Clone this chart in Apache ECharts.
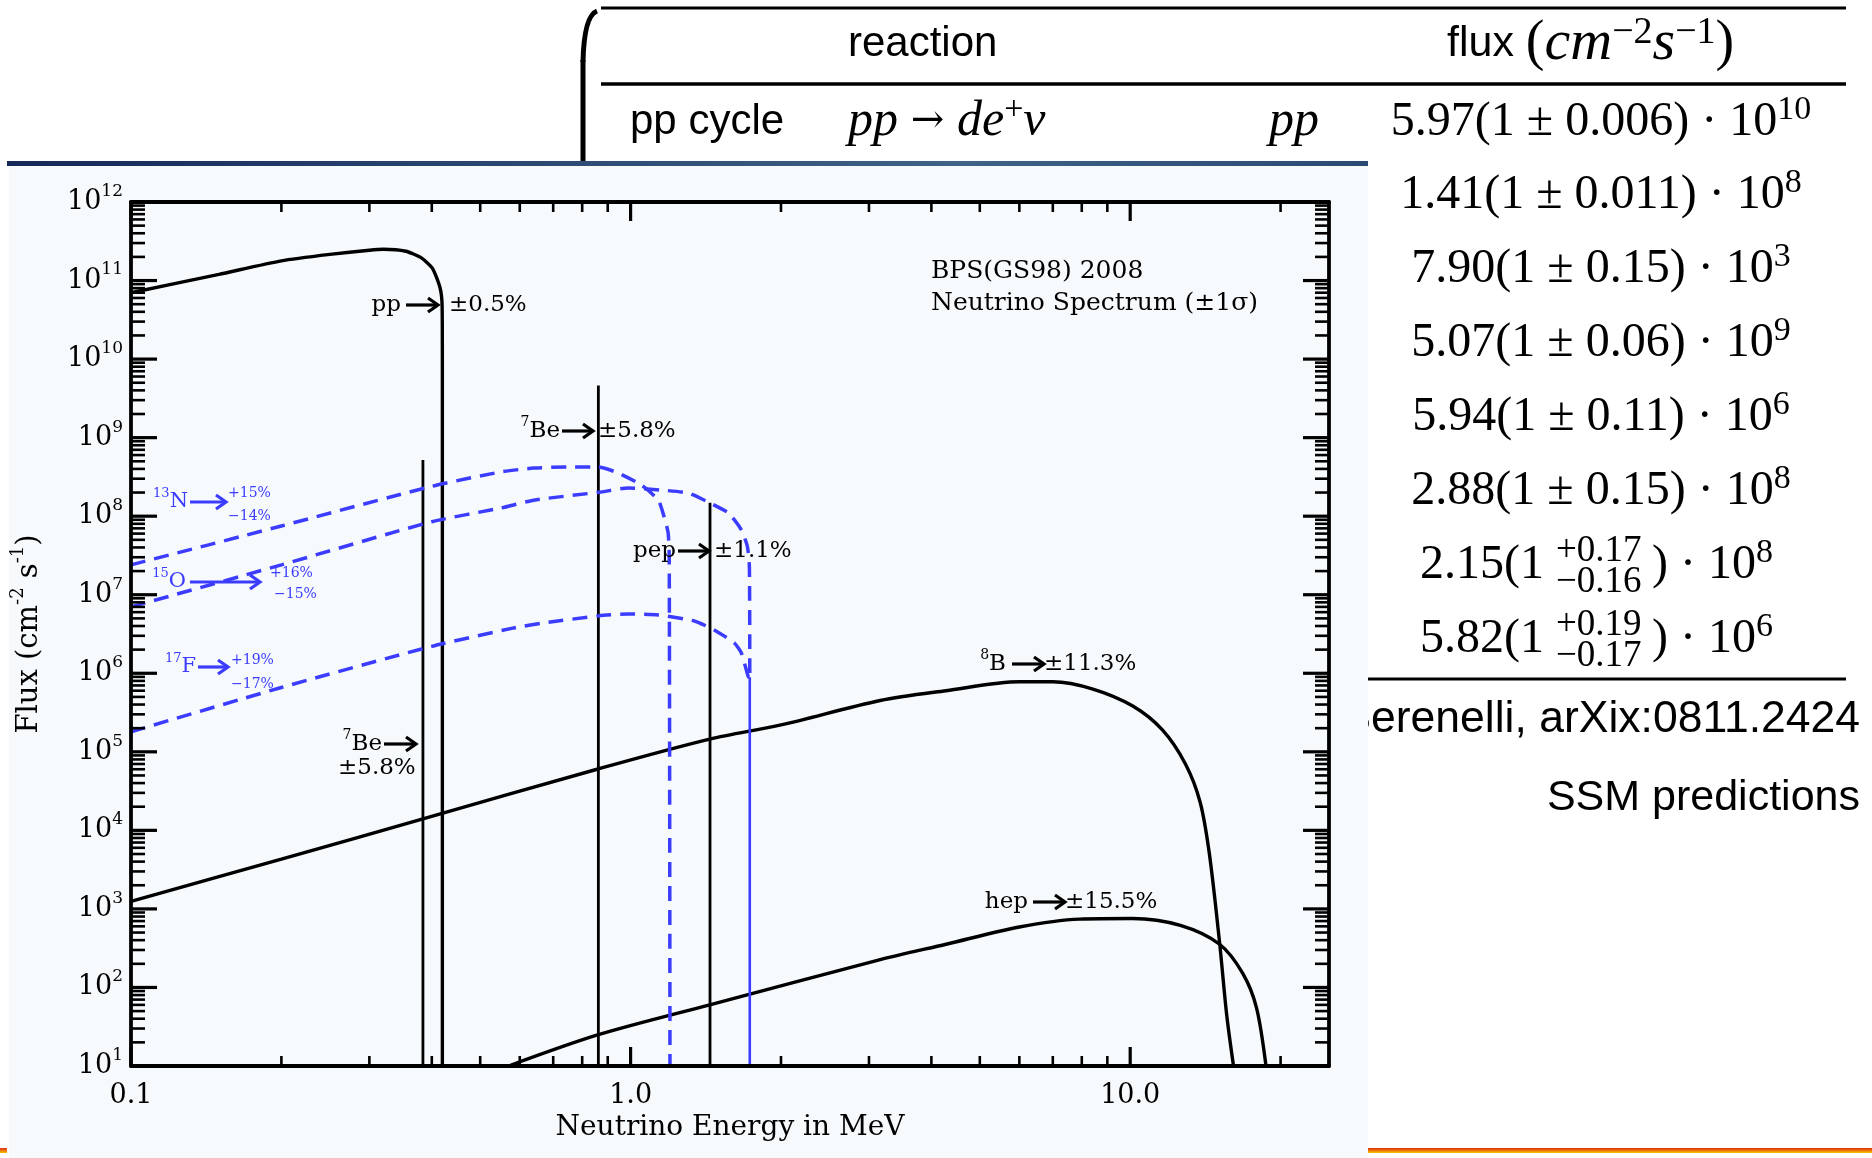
<!DOCTYPE html>
<html><head><meta charset="utf-8">
<script src="https://cdn.jsdelivr.net/npm/echarts@6/dist/echarts.min.js"></script>
<style>html,body{margin:0;padding:0;background:#fff}#c{width:1872px;height:1158px}</style>
</head><body><div id="c"></div>
<script>
// ---------------- data ----------------
const energyTicks = [0.1, 1, 10];
const energyTickLabels = ['0.1', '1.0', '10.0'];
const energyMinorTicks = [0.2, 0.3, 0.4, 0.5, 0.6, 0.7, 0.8, 0.9, 2, 3, 4, 5, 6, 7, 8, 9, 20];
const fluxDecades = [1, 2, 3, 4, 5, 6, 7, 8, 9, 10, 11, 12];
const fluxMinorSteps = [2, 3, 4, 5, 6, 7, 8, 9];

// [energy MeV, flux]
const ppSpectrum = [[0.1, 7.0e10], [0.15, 1.2e11], [0.2, 1.78e11], [0.25, 2.15e11], [0.3, 2.43e11], [0.32, 2.5e11], [0.355, 2.36e11], [0.38, 1.97e11], [0.401, 1.44e11], [0.4155, 8.1e10], [0.4195, 4.8e10], [0.42, 7.2e9], [0.42, 10]];
const be7Line384 = [[0.384, 10], [0.384, 5.2e8]];
const be7Line862 = [[0.862, 10], [0.862, 4.6e9]];
const pepLine = [[1.442, 10], [1.442, 1.48e8]];
const b8Spectrum = [[0.1, 1.25e3], [0.2, 4.3e3], [0.384, 1.4e4], [0.857, 6.0e4], [1.44, 1.45e5], [2.0, 2.2e5], [3.16, 4.5e5], [4.28, 6.0e5], [6.0, 7.8e5], [7.0, 7.8e5], [8.42, 6.3e5], [10.1, 3.85e5], [11.6, 1.9e5], [12.9, 7.0e4], [13.8, 2.3e4], [14.4, 5.1e3], [15.1, 3.7e2], [15.6, 45], [16.1, 10]];
const hepSpectrum = [[0.57, 10], [0.862, 25], [1.44, 60], [3.16, 226], [4.28, 355], [6.0, 589], [7.92, 741], [10.1, 755], [12.6, 617], [15.1, 355], [16.8, 151], [17.9, 55], [18.7, 10]];
const n13Spectrum = [[0.1, 2.4e7], [0.2, 7.5e7], [0.4, 2.4e8], [0.55, 3.66e8], [0.64, 4.1e8], [0.749, 4.23e8], [0.861, 4.23e8], [0.944, 3.55e8], [1.05, 2.5e8], [1.136, 1.6e8], [1.167, 9.8e7], [1.189, 6.1e7], [1.195, 2.8e7], [1.199, 10]];
const o15Spectrum = [[0.1, 7.0e6], [0.2, 2.4e7], [0.4, 8.5e7], [0.55, 1.27e8], [0.64, 1.6e8], [0.872, 2.03e8], [0.989, 2.29e8], [1.151, 2.15e8], [1.304, 1.97e8], [1.43, 1.51e8], [1.569, 1.1e8], [1.666, 6.7e7], [1.713, 4.1e7], [1.729, 2.26e7], [1.732, 8.9e5]];
const f17Spectrum = [[0.1, 1.8e5], [0.2, 6.6e5], [0.4, 2.2e6], [0.584, 3.78e6], [0.671, 4.37e6], [0.861, 5.37e6], [0.989, 5.69e6], [1.136, 5.52e6], [1.341, 4.63e6], [1.47, 3.56e6], [1.613, 2.43e6], [1.666, 1.81e6], [1.721, 8.97e5], [1.732, 8.9e5]];
const cnoEndpointDrop = [[1.732, 8.9e5], [1.732, 10]];

// table (SSM predictions)
const tableFluxMantissa = ['5.97', '1.41', '7.90', '5.07', '5.94', '2.88', '2.15', '5.82'];
const tableFluxError = ['± 0.006', '± 0.011', '± 0.15', '± 0.06', '± 0.11', '± 0.15', ['+0.17', '−0.16'], ['+0.19', '−0.17']];
const tableFluxExponent = ['10', '8', '3', '9', '6', '8', '8', '6'];

// ---------------- layout ----------------
const SERIF = 'DejaVu Serif';
const TSERIF = 'Liberation Serif';
const SANS = 'Liberation Sans';
const BLUE = '#3c3cff';
const rowY = [122, 195, 269, 343, 417, 491, 565, 639];
const AF = 23; // annotation font size

function T(x, y, text, o) {
  o = o || {};
  const al = o.align || 'left';
  return { type: 'text', z: o.z != null ? o.z : 20, silent: true, style: {
    x: x, y: y, text: text, fill: o.color || '#000', fontFamily: o.family || SERIF,
    fontSize: o.size || AF, fontStyle: o.italic ? 'italic' : 'normal',
    textAlign: al, align: al, textVerticalAlign: 'middle', verticalAlign: 'middle',
    rich: o.rich || {} } };
}
function sup(size, family, color) {
  return { fontSize: size, fontFamily: family, fill: color || '#000', color: color || '#000', verticalAlign: 'top' };
}
function base(size, family, lh, color, italic) {
  return { fontSize: size, fontFamily: family, lineHeight: lh, fill: color || '#000', color: color || '#000', fontStyle: italic ? 'italic' : 'normal' };
}
function A(x1, x2, y, color) {
  color = color || '#000';
  return [
    { type: 'line', z: 20, silent: true, shape: { x1: x1, y1: y, x2: x2 - 2, y2: y }, style: { stroke: color, lineWidth: 3.2 } },
    { type: 'polyline', z: 20, silent: true, shape: { points: [[x2 - 10, y - 7], [x2, y], [x2 - 10, y + 7]] }, style: { stroke: color, lineWidth: 3.2, fill: null } }
  ];
}

const elements = [];
// slide table (drawn under the chart panel)
elements.push({ type: 'bezierCurve', z: 1, silent: true, shape: { x1: 597, y1: 11, x2: 583, y2: 62, cpx1: 584, cpy1: 16 }, style: { stroke: '#000', lineWidth: 5, fill: null } });
elements.push({ type: 'line', z: 1, silent: true, shape: { x1: 583, y1: 60, x2: 583, y2: 164 }, style: { stroke: '#000', lineWidth: 5 } });
elements.push({ type: 'line', z: 1, silent: true, shape: { x1: 601, y1: 8, x2: 1846, y2: 8 }, style: { stroke: '#000', lineWidth: 3 } });
elements.push({ type: 'line', z: 1, silent: true, shape: { x1: 601, y1: 84, x2: 1846, y2: 84 }, style: { stroke: '#000', lineWidth: 3.5 } });
elements.push({ type: 'line', z: 1, silent: true, shape: { x1: 1368, y1: 679, x2: 1846, y2: 679 }, style: { stroke: '#000', lineWidth: 3 } });
elements.push(T(848, 44, 'reaction', { family: SANS, size: 42, z: 1 }));
elements.push(T(1447, 44, '{sf|flux }{rm|(}{it|cm}{s|−2}{it|s}{s|−1}{rm|)}', { family: TSERIF, size: 50, z: 1, rich: {
  sf: base(43, SANS, 60), rm: base(56, TSERIF, 60), it: base(58, TSERIF, 60, '#000', true), s: sup(38, TSERIF) } }));
elements.push(T(630, 122, 'pp cycle', { family: SANS, size: 42, z: 1 }));
elements.push(T(848, 122, '{it|pp}{rm| → }{it|de}{s|+}{it|ν}', { family: TSERIF, size: 48, z: 1, rich: {
  it: base(50, TSERIF, 58, '#000', true), rm: base(40, SERIF, 58), s: sup(34, TSERIF) } }));
elements.push(T(1269, 122, 'pp', { family: TSERIF, size: 50, italic: true, z: 1 }));
const numRich = { m: base(48, TSERIF, 58), s: sup(34, TSERIF) };
tableFluxMantissa.forEach(function (m, i) {
  const err = tableFluxError[i];
  if (typeof err === 'string') {
    elements.push(T(1601, rowY[i], '{m|' + m + '(1 ' + err + ') · 10}{s|' + tableFluxExponent[i] + '}', { family: TSERIF, size: 48, align: 'center', z: 1, rich: numRich }));
  } else {
    elements.push(T(1544, rowY[i], m + '(1', { family: TSERIF, size: 48, align: 'right', z: 1 }));
    elements.push(T(1556, rowY[i] - 14, err[0], { family: TSERIF, size: 37, z: 1 }));
    elements.push(T(1556, rowY[i] + 17, err[1], { family: TSERIF, size: 37, z: 1 }));
    elements.push(T(1652, rowY[i], '{m|) · 10}{s|' + tableFluxExponent[i] + '}', { family: TSERIF, size: 48, z: 1, rich: numRich }));
  }
});
elements.push(T(1860, 720, 'Serenelli, arXix:0811.2424', { family: SANS, size: 44.5, align: 'right', z: 1 }));
elements.push(T(1860, 798, 'SSM predictions', { family: SANS, size: 43, align: 'right', z: 1 }));

// chart panel + slide decorations
elements.push({ type: 'rect', z: 2, silent: true, shape: { x: 9, y: 166, width: 1359, height: 992 }, style: { fill: '#f6fafc' } });
elements.push({ type: 'rect', z: 2, silent: true, shape: { x: 7, y: 161, width: 1361, height: 5 }, style: { fill: new echarts.graphic.LinearGradient(0, 0, 1, 0, [
  { offset: 0, color: '#15285a' }, { offset: 0.35, color: '#2a4670' }, { offset: 0.7, color: '#3e6288' }, { offset: 1, color: '#2a4a74' }]) } });
elements.push({ type: 'rect', z: 2, silent: true, shape: { x: 1368, y: 1148, width: 504, height: 5 }, style: { fill: new echarts.graphic.LinearGradient(0, 0, 0, 1, [
  { offset: 0, color: '#e02a10' }, { offset: 1, color: '#f5c400' }]) } });
elements.push({ type: 'rect', z: 2, silent: true, shape: { x: 0, y: 1148, width: 7, height: 5 }, style: { fill: new echarts.graphic.LinearGradient(0, 0, 0, 1, [
  { offset: 0, color: '#e02a10' }, { offset: 1, color: '#f5c400' }]) } });

// in-plot annotations
const supB = sup(14, SERIF);
const mainB = base(AF, SERIF, 32);
elements.push(T(931, 271, 'BPS(GS98) 2008', { size: 25 }));
elements.push(T(931, 303, 'Neutrino Spectrum (±1σ)', { size: 25 }));
elements.push(T(401, 305, 'pp', { align: 'right' })); A(406, 438, 305).forEach(e => elements.push(e)); elements.push(T(449, 305, '±0.5%'));
elements.push(T(560, 431, '{s|7}{m|Be}', { align: 'right', rich: { s: supB, m: mainB } })); A(562, 593, 431).forEach(e => elements.push(e)); elements.push(T(598, 431, '±5.8%'));
elements.push(T(676, 551, 'pep', { align: 'right' })); A(678, 709, 551).forEach(e => elements.push(e)); elements.push(T(714, 551, '±1.1%'));
elements.push(T(382, 744, '{s|7}{m|Be}', { align: 'right', rich: { s: supB, m: mainB } })); A(384, 416, 744).forEach(e => elements.push(e)); elements.push(T(338, 768, '±5.8%'));
elements.push(T(1006, 664, '{s|8}{m|B}', { align: 'right', rich: { s: supB, m: mainB } })); A(1012, 1044, 664).forEach(e => elements.push(e)); elements.push(T(1044, 664, '±11.3%'));
elements.push(T(1028, 902, 'hep', { align: 'right' })); A(1033, 1065, 902).forEach(e => elements.push(e)); elements.push(T(1065, 902, '±15.5%'));
const supBl = sup(13, SERIF, BLUE);
const mainBl = base(21, SERIF, 30, BLUE);
elements.push(T(188, 502, '{s|13}{m|N}', { align: 'right', color: BLUE, rich: { s: supBl, m: mainBl } })); A(190, 226, 502, BLUE).forEach(e => elements.push(e));
elements.push(T(228, 493, '+15%', { color: BLUE, size: 14 })); elements.push(T(228, 516, '−14%', { color: BLUE, size: 14 }));
elements.push(T(186, 582, '{s|15}{m|O}', { align: 'right', color: BLUE, rich: { s: supBl, m: mainBl } })); A(190, 260, 582, BLUE).forEach(e => elements.push(e));
elements.push(T(270, 573, '+16%', { color: BLUE, size: 14 })); elements.push(T(274, 594, '−15%', { color: BLUE, size: 14 }));
elements.push(T(196, 667, '{s|17}{m|F}', { align: 'right', color: BLUE, rich: { s: supBl, m: mainBl } })); A(198, 228, 667, BLUE).forEach(e => elements.push(e));
elements.push(T(231, 660, '+19%', { color: BLUE, size: 14 })); elements.push(T(231, 684, '−17%', { color: BLUE, size: 14 }));

// ---------------- ticks (custom series through the axes) ----------------
const EMIN = 0.1, EMAX = 25, FMIN = 10, FMAX = 1e12;
const tickData = [];
fluxDecades.forEach(function (d) {
  const v = Math.pow(10, d);
  tickData.push([EMIN, v, 0, 26], [EMAX, v, 1, 26]);
  if (d < 12) fluxMinorSteps.forEach(function (m) { tickData.push([EMIN, m * v, 0, 14], [EMAX, m * v, 1, 14]); });
});
energyTicks.forEach(function (e) { tickData.push([e, FMIN, 2, 19], [e, FMAX, 3, 19]); });
energyMinorTicks.forEach(function (e) { tickData.push([e, FMIN, 2, 10], [e, FMAX, 3, 10]); });

function lineSeries(name, data, color, width, dashed, z, smooth) {
  return { name: name, type: 'line', data: data, showSymbol: false, symbol: 'none', smooth: smooth || false, silent: true, z: z || 6,
    lineStyle: { color: color, width: width, type: dashed ? [15, 9] : 'solid' }, emphasis: { disabled: true } };
}

const chart = echarts.init(document.getElementById('c'), null, { renderer: 'canvas' });
const axisLineStyle = { show: true, lineStyle: { color: '#000', width: 3.8 } };
chart.setOption({
  animation: false,
  backgroundColor: '#ffffff',
  graphic: { elements: elements },
  grid: { left: 131, top: 202, width: 1198, height: 864, containLabel: false },
  xAxis: [
    { type: 'log', logBase: 10, min: EMIN, max: EMAX, position: 'bottom', z: 8,
      axisLine: axisLineStyle, axisTick: { show: false }, splitLine: { show: false }, minorTick: { show: false },
      axisLabel: { margin: 16, color: '#000', fontFamily: SERIF, fontSize: 27, showMinLabel: true,
        formatter: function (v) {
          for (let i = 0; i < energyTicks.length; i++) if (Math.abs(Math.log10(v) - Math.log10(energyTicks[i])) < 1e-6) return energyTickLabels[i];
          return '';
        } },
      name: 'Neutrino Energy in MeV', nameLocation: 'middle', nameGap: 48,
      nameTextStyle: { color: '#000', fontFamily: SERIF, fontSize: 28 } },
    { type: 'log', logBase: 10, min: EMIN, max: EMAX, position: 'top', z: 8,
      axisLine: axisLineStyle, axisTick: { show: false }, axisLabel: { show: false }, splitLine: { show: false } }
  ],
  yAxis: [
    { type: 'log', logBase: 10, min: FMIN, max: FMAX, interval: 1, splitNumber: 11, position: 'left', z: 8,
      axisLine: axisLineStyle, axisTick: { show: false }, splitLine: { show: false }, minorTick: { show: false },
      axisLabel: { margin: 8, color: '#000', fontFamily: SERIF, fontSize: 27, showMinLabel: true, showMaxLabel: true,
        formatter: function (v) {
          const e = Math.round(Math.log10(v));
          if (Math.abs(Math.log10(v) - e) > 1e-6) return '';
          return '{b|10}{s|' + e + '}';
        },
        rich: { b: { fontFamily: SERIF, fontSize: 27, lineHeight: 38, color: '#000' }, s: { fontFamily: SERIF, fontSize: 17, color: '#000', verticalAlign: 'top' } } },
      name: '{a|Flux (cm}{s|-2}{a| s}{s|-1}{a|)}', nameLocation: 'middle', nameRotate: 90, nameGap: 82,
      nameTextStyle: { color: '#000', fontFamily: SERIF, fontSize: 29,
        rich: { a: { fontFamily: SERIF, fontSize: 29, lineHeight: 40, color: '#000' }, s: { fontFamily: SERIF, fontSize: 18, color: '#000', verticalAlign: 'top' } } } },
    { type: 'log', logBase: 10, min: FMIN, max: FMAX, position: 'right', z: 8,
      axisLine: axisLineStyle, axisTick: { show: false }, axisLabel: { show: false }, splitLine: { show: false } }
  ],
  series: [
    { name: 'ticks', type: 'custom', silent: true, z: 9, data: tickData, encode: { x: 0, y: 1 },
      renderItem: function (params, api) {
        const p = api.coord([api.value(0), api.value(1)]);
        const dir = api.value(2), len = api.value(3);
        let x2 = p[0], y2 = p[1];
        if (dir === 0) x2 += len; else if (dir === 1) x2 -= len; else if (dir === 2) y2 -= len; else y2 += len;
        return { type: 'line', shape: { x1: p[0], y1: p[1], x2: x2, y2: y2 }, style: { stroke: '#000', lineWidth: len > 15 ? 3.2 : 2.6 } };
      } },
    lineSeries('pp', ppSpectrum, '#000', 3.4, false, 6, 0.2),
    lineSeries('7Be 0.384', be7Line384, '#000', 2.8, false),
    lineSeries('7Be 0.862', be7Line862, '#000', 2.8, false),
    lineSeries('pep', pepLine, '#000', 2.8, false),
    lineSeries('8B', b8Spectrum, '#000', 3.4, false, 6, 0.3),
    lineSeries('hep', hepSpectrum, '#000', 3.4, false, 6, 0.3),
    lineSeries('13N', n13Spectrum, BLUE, 3.5, true, 7, 0.2),
    lineSeries('15O', o15Spectrum, BLUE, 3.5, true, 7, 0.2),
    lineSeries('17F', f17Spectrum, BLUE, 3.5, true, 7, 0.2),
    lineSeries('15O/17F endpoint', cnoEndpointDrop, BLUE, 2.6, false, 7)
  ]
});
</script></body></html>
